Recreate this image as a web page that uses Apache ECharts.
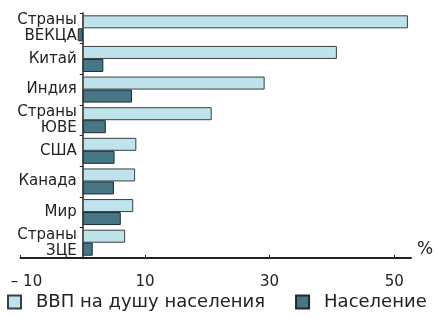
<!DOCTYPE html>
<html>
<head>
<meta charset="utf-8">
<script src="https://cdn.jsdelivr.net/npm/echarts@6/dist/echarts.min.js"></script>
<style>
html, body { margin: 0; padding: 0; background: #fff; }
#main { width: 436px; height: 318px; }
</style>
</head>
<body>
<div id="main"></div>
<script>
// данные
var categories = ["Страны\nВЕКЦА", "Китай", "Индия", "Страны\nЮВЕ", "США", "Канада", "Мир", "Страны\nЗЦЕ"];
var gdp = [52.2, 40.8, 29.2, 20.7, 8.6, 8.4, 8.1, 6.8];
var population = [-0.8, 3.3, 7.9, 3.7, 5.1, 5.0, 6.1, 1.6];
var tickValues = [-10, 10, 30, 50];

var font = "DejaVu Sans";
var xMin = -10;
var xMax = 52.7;
var gridLeft = 20.5;
var gridRight = 25;
var chartWidth = 436;

// вертикальная ось стоит на нуле шкалы X
var plotWidth = chartWidth - gridLeft - gridRight;
var zeroOffset = (0 - xMin) / (xMax - xMin) * plotWidth;

var chart = echarts.init(document.getElementById("main"));

var option = {
	animation : false,
	textStyle : { fontFamily : font },
	grid : {
		left : gridLeft,
		right : gridRight,
		top : 13,
		bottom : 60,
		outerBoundsMode : "none"
	},
	legend : {
		bottom : 2,
		left : 2,
		icon : "rect",
		itemWidth : 13,
		itemHeight : 13,
		itemGap : 30,
		textStyle : { fontFamily : font, fontSize : 18, color : "#222", padding : [0, 0, 0, 10] },
		data : ["ВВП на душу населения", "Население"]
	},
	xAxis : {
		type : "value",
		min : xMin,
		max : xMax,
		name : "%",
		nameGap : 6,
		nameTextStyle : { fontFamily : font, fontSize : 17, color : "#222", verticalAlign : "bottom" },
		splitLine : { show : false },
		axisLine : { show : true, lineStyle : { color : "#222", width : 2 } },
		axisTick : { show : true, inside : true, length : 3, customValues : tickValues, lineStyle : { color : "#222" } },
		axisLabel : {
			customValues : tickValues,
			fontFamily : font,
			fontSize : 15,
			color : "#222",
			margin : 17,
			formatter : function(v){
				return v < 0 ? "{neg|– " + Math.abs(v) + "}" : String(v);
			},
			rich : {
				neg : { fontFamily : font, fontSize : 15, color : "#222", padding : [0, 0, 0, 12] }
			}
		}
	},
	yAxis : {
		type : "category",
		inverse : true,
		data : categories,
		offset : -zeroOffset,
		axisLine : { show : true, onZero : false, lineStyle : { color : "#222", width : 1.5 } },
		axisTick : { show : true, length : 3, lineStyle : { color : "#222" } },
		axisLabel : { fontFamily : font, fontSize : 15, color : "#222", lineHeight : 16, margin : 6 }
	},
	series : [
		{
			name : "ВВП на душу населения",
			type : "bar",
			data : gdp,
			barWidth : 13,
			barGap : "0%",
			itemStyle : { color : "#bfe3ea", borderColor : "#3a3f42", borderWidth : 1 }
		},
		{
			name : "Население",
			type : "bar",
			data : population,
			barWidth : 13,
			barGap : "0%",
			itemStyle : { color : "#477686", borderColor : "#1e2a2e", borderWidth : 1 }
		}
	]
};
chart.setOption(option);
</script>
</body>
</html>
